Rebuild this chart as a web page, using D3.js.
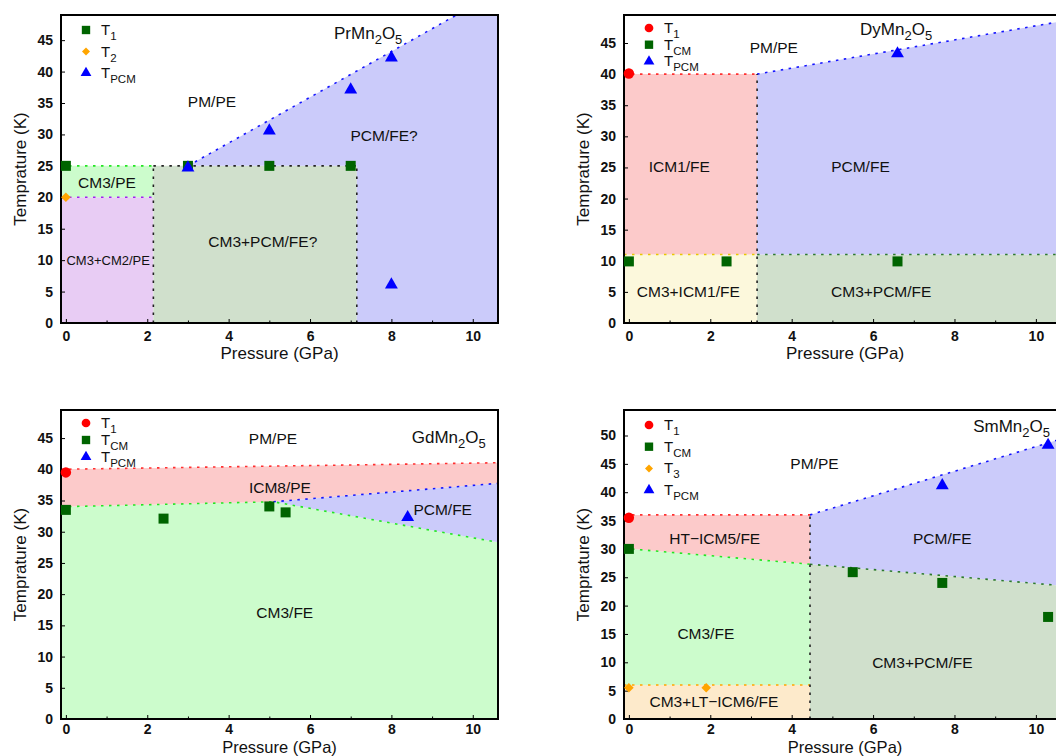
<!DOCTYPE html>
<html><head><meta charset="utf-8">
<script src="https://cdn.jsdelivr.net/npm/d3@7"></script>
<style>
body{margin:0;background:#fff}
text{font-family:"Liberation Sans",Arial,Helvetica,sans-serif;fill:#111}
</style>
</head><body>
<svg id="chart" width="1056" height="756"></svg>
<script>
// ---------------- data ----------------
const X_MIN = -0.12;
const pressureTicksMajor = [0, 2, 4, 6, 8, 10];
const pressureTicksMinor = [1, 3, 5, 7, 9];
const tempTicks49 = [0, 5, 10, 15, 20, 25, 30, 35, 40, 45];
const tempTicks54 = [0, 5, 10, 15, 20, 25, 30, 35, 40, 45, 50];

// PrMn2O5
const prT1   = [[0, 25], [3, 25], [5, 25], [7, 25]];
const prT2   = [[0, 20]];
const prTPCM = [[3, 24.7], [5, 30.6], [7, 37.1], [8, 42.2], [8, 6.1]];
const prLegendSubs = ["1", "2", "PCM"];
const prLabels = ["PM/PE", "PCM/FE?", "CM3/PE", "CM3+CM2/PE", "CM3+PCM/FE?"];
const prBoundPCM   = [[3, 25], [9.6, 49]];
const prBoundCM3a  = [[X_MIN, 25], [2.15, 25]];
const prBoundCM3b  = [[2.15, 25], [7.15, 25]];
const prBoundCM2   = [[X_MIN, 20], [2.15, 20]];
const prBoundV1    = [[2.15, 0], [2.15, 25]];
const prBoundV2    = [[7.15, 0], [7.15, 25]];

// DyMn2O5
const dyT1   = [[0, 40.1]];
const dyTCM  = [[0, 9.9], [2.4, 9.9], [6.6, 9.9]];
const dyTPCM = [[6.6, 43.3]];
const dyLegendSubs = ["1", "CM", "PCM"];
const dyLabels = ["PM/PE", "ICM1/FE", "PCM/FE", "CM3+ICM1/FE", "CM3+PCM/FE"];
const dyBoundT1   = [[X_MIN, 40], [3.15, 40]];
const dyBoundPCM  = [[3.15, 40], [10.74, 48.6]];
const dyBoundV    = [[3.15, 0], [3.15, 40]];
const dyBoundCMa  = [[X_MIN, 11], [3.15, 11]];
const dyBoundCMb  = [[3.15, 11], [10.74, 11]];

// GdMn2O5
const gdT1   = [[0, 39.5]];
const gdTCM  = [[0, 33.5], [2.4, 32.1], [5.0, 34.05], [5.4, 33.1]];
const gdTPCM = [[8.4, 32.3]];
const gdLegendSubs = ["1", "CM", "PCM"];
const gdLabels = ["PM/PE", "ICM8/PE", "PCM/FE", "CM3/FE"];
const gdBoundT1  = [[X_MIN, 40.0], [10.62, 41.05]];
const gdBoundCM  = [[X_MIN, 34.0], [5.1, 34.8], [10.62, 28.3]];
const gdBoundPCM = [[5.1, 34.8], [10.62, 37.75]];

// SmMn2O5
const smT1   = [[0, 35.5]];
const smTCM  = [[0, 30], [5.5, 25.9], [7.7, 24.0], [10.3, 18.0]];
const smT3   = [[0, 5.5], [1.9, 5.5]];
const smTPCM = [[7.7, 41.2], [10.3, 48.3]];
const smLegendSubs = ["1", "CM", "3", "PCM"];
const smLabels = ["PM/PE", "HT\u2212ICM5/FE", "PCM/FE", "CM3/FE", "CM3+PCM/FE", "CM3+LT\u2212ICM6/FE"];
const smBoundT1  = [[X_MIN, 36], [4.45, 36]];
const smBoundPCM = [[4.45, 36], [10.74, 49.65]];
const smBoundCMa = [[X_MIN, 30.1], [4.45, 27.3]];
const smBoundCMb = [[4.45, 27.3], [10.74, 23.45]];
const smBoundT3  = [[X_MIN, 6], [4.45, 6]];
const smBoundV   = [[4.45, 0], [4.45, 36]];

// ---------------- styles ----------------
const FILL = {pink:"#fccaca", blue:"#cbcbfa", green:"#ccfccc", grey:"#d0e0cc",
              purple:"#e8ccf4", yellow:"#fcf8dc", peach:"#fdeacb"};
const MC = {red:"#ff0000", green:"#006400", orange:"#ffa500", blue:"#0000ff"};
const LC = {red:"#ff3030", blue:"#1515ff", lime:"#22e622", dkgreen:"#2c7a2c",
            black:"#222222", purple:"#a020f0", orange:"#ffa500", yellow:"#e8c800"};

const svg = d3.select("#chart");
let clipId = 0;

function symPath(kind, big) {
  const s = big ? 1 : 0.7;
  if (kind === "square")   return d3.symbol(d3.symbolSquare, 100 * s)();
  if (kind === "circle")   return d3.symbol(d3.symbolCircle, 85 * s)();
  if (kind === "triangle") return d3.symbol(d3.symbolTriangle, 72 * s)();
  if (kind === "diamond")  return d3.symbol(d3.symbolSquare, 46 * s)();
}
const KIND_COLOR = {circle:MC.red, square:MC.green, diamond:MC.orange, triangle:MC.blue};

function subText(sel, parts, mainSize, subSize, shift) {
  let prevSub = false;
  parts.forEach(([t, sub]) => {
    const ts = sel.append("tspan").text(t).attr("font-size", sub ? subSize : mainSize);
    if (sub && !prevSub) ts.attr("dy", shift);
    if (!sub && prevSub) ts.attr("dy", -shift);
    prevSub = sub;
  });
}

function panel(cfg) {
  const g = svg.append("g");
  const x = d3.scaleLinear().domain([X_MIN, cfg.xMax]).range([cfg.left, cfg.left + cfg.w]);
  const y = d3.scaleLinear().domain([0, cfg.yMax]).range([cfg.top + cfg.h, cfg.top]);
  const id = "clip" + (clipId++);
  g.append("clipPath").attr("id", id).append("rect")
    .attr("x", cfg.left).attr("y", cfg.top).attr("width", cfg.w).attr("height", cfg.h);
  const plot = g.append("g").attr("clip-path", `url(#${id})`);
  const line = d3.line().x(d => x(d[0])).y(d => y(d[1]));

  cfg.regions.forEach(([pts, fill]) => {
    plot.append("path").attr("d", line(pts) + "Z").attr("fill", fill).attr("stroke", "none");
  });
  cfg.lines.forEach(([pts, col]) => {
    plot.append("path").attr("d", line(pts)).attr("fill", "none").attr("stroke", col)
      .attr("stroke-width", 1.6).attr("stroke-dasharray", "2.5,5.5");
  });

  // axes
  const ax = g.append("g").attr("transform", `translate(0,${cfg.top + cfg.h})`)
    .call(d3.axisBottom(x).tickValues(pressureTicksMajor).tickSizeInner(-4).tickSizeOuter(0).tickPadding(cfg.xPad));
  const axm = g.append("g").attr("transform", `translate(0,${cfg.top + cfg.h})`)
    .call(d3.axisBottom(x).tickValues(pressureTicksMinor).tickSizeInner(-2.5).tickSizeOuter(0).tickFormat(""));
  const ay = g.append("g").attr("transform", `translate(${cfg.left},0)`)
    .call(d3.axisLeft(y).tickValues(cfg.yTicks).tickSizeInner(-4).tickSizeOuter(0).tickPadding(8));
  [ax, axm, ay].forEach(a => {
    a.select(".domain").remove();
    a.selectAll("line").attr("stroke", "#000").attr("stroke-width", 1);
    a.selectAll("text").attr("font-size", 14).attr("font-weight", "bold")
      .attr("font-family", '"Liberation Sans",Arial,sans-serif').attr("fill", "#111");
  });

  // frame
  g.append("rect").attr("x", cfg.left).attr("y", cfg.top).attr("width", cfg.w).attr("height", cfg.h)
    .attr("fill", "none").attr("stroke", "#000").attr("stroke-width", 2);

  // markers
  cfg.points.forEach(([pts, kind]) => {
    g.selectAll(null).data(pts).enter().append("path")
      .attr("d", symPath(kind, true))
      .attr("transform", d => `translate(${x(d[0])},${y(d[1])})` + (kind === "diamond" ? " rotate(45)" : ""))
      .attr("fill", KIND_COLOR[kind]);
  });

  // region labels
  cfg.labels.forEach(([t, px, py, fs]) => {
    g.append("text").attr("x", x(px)).attr("y", y(py)).attr("text-anchor", "middle")
      .attr("dominant-baseline", "central").attr("font-size", fs || 15.5).text(t);
  });

  // compound title
  const tt = g.append("text").attr("x", x(cfg.title.x)).attr("y", y(cfg.title.y));
  subText(tt, cfg.title.parts, 17, 13, 5);

  // legend
  cfg.legend.forEach(([kind, sub], i) => {
    const ly = cfg.legTop + i * cfg.legStep;
    g.append("path").attr("d", symPath(kind, false))
      .attr("transform", `translate(${cfg.left + 25},${ly})` + (kind === "diamond" ? " rotate(45)" : ""))
      .attr("fill", KIND_COLOR[kind]);
    const lt = g.append("text").attr("x", cfg.left + 40).attr("y", ly + 5);
    subText(lt, [["T", false], [sub, true]], 15, 11.5, 5);
  });

  // axis titles
  g.append("text").attr("transform", `translate(${cfg.left - 41},${cfg.top + cfg.h / 2}) rotate(-90)`)
    .attr("text-anchor", "middle").attr("dy", "0.35em").attr("font-size", 17).text("Temprature (K)");
  g.append("text").attr("x", cfg.left + cfg.w / 2).attr("y", cfg.top + cfg.h + cfg.xTitleOff)
    .attr("text-anchor", "middle").attr("font-size", cfg.xTitleSize).text("Pressure (GPa)");
}

// ---------------- panels ----------------
panel({
  left: 61, top: 15, w: 437, h: 308, xMax: 10.62, yMax: 49, yTicks: tempTicks49,
  xPad: 8, xTitleOff: 36, xTitleSize: 17,
  regions: [
    [[[X_MIN, 0], [2.15, 0], [2.15, 20], [X_MIN, 20]], FILL.purple],
    [[[X_MIN, 20], [2.15, 20], [2.15, 25], [X_MIN, 25]], FILL.green],
    [[[2.15, 0], [7.15, 0], [7.15, 25], [2.15, 25]], FILL.grey],
    [[prBoundPCM[0], prBoundPCM[1], [10.62, 49], [10.62, 0], [7.15, 0], [7.15, 25]], FILL.blue]
  ],
  lines: [[prBoundCM3a, LC.lime], [prBoundCM3b, LC.black], [prBoundCM2, LC.purple],
          [prBoundPCM, LC.blue], [prBoundV1, LC.black], [prBoundV2, LC.black]],
  points: [[prT1, "square"], [prT2, "diamond"], [prTPCM, "triangle"]],
  labels: [[prLabels[0], 3.59, 35.2], [prLabels[1], 7.82, 29.9], [prLabels[2], 1.01, 22.4],
           [prLabels[3], 1.04, 10.0, 13], [prLabels[4], 4.84, 13.0]],
  title: {x: 6.59, y: 45.2, parts: [["PrMn", false], ["2", true], ["O", false], ["5", true]]},
  legend: [["square", prLegendSubs[0]], ["diamond", prLegendSubs[1]], ["triangle", prLegendSubs[2]]],
  legTop: 30, legStep: 21.5
});

panel({
  left: 624, top: 15, w: 442, h: 308, xMax: 10.74, yMax: 49.5, yTicks: tempTicks49,
  xPad: 8, xTitleOff: 36, xTitleSize: 17,
  regions: [
    [[[X_MIN, 0], [3.15, 0], [3.15, 11], [X_MIN, 11]], FILL.yellow],
    [[[X_MIN, 11], [3.15, 11], [3.15, 40], [X_MIN, 40]], FILL.pink],
    [[[3.15, 0], [10.74, 0], [10.74, 11], [3.15, 11]], FILL.grey],
    [[[3.15, 11], dyBoundPCM[0], dyBoundPCM[1], [10.74, 11]], FILL.blue]
  ],
  lines: [[dyBoundT1, LC.red], [dyBoundPCM, LC.blue], [dyBoundV, LC.black],
          [dyBoundCMa, LC.yellow], [dyBoundCMb, LC.dkgreen]],
  points: [[dyTCM, "square"], [dyTPCM, "triangle"], [dyT1, "circle"]],
  labels: [[dyLabels[0], 3.56, 44.2], [dyLabels[1], 1.24, 25.1], [dyLabels[2], 5.69, 25.1],
           [dyLabels[3], 1.46, 5.0], [dyLabels[4], 6.2, 5.0]],
  title: {x: 5.68, y: 46.3, parts: [["DyMn", false], ["2", true], ["O", false], ["5", true]]},
  legend: [["circle", dyLegendSubs[0]], ["square", dyLegendSubs[1]], ["triangle", dyLegendSubs[2]]],
  legTop: 28, legStep: 16.7
});

panel({
  left: 61, top: 410, w: 437, h: 309, xMax: 10.62, yMax: 49.5, yTicks: tempTicks49,
  xPad: 5.5, xTitleOff: 33.5, xTitleSize: 16.5,
  regions: [
    [[[X_MIN, 0], [10.62, 0], gdBoundCM[2], gdBoundCM[1], gdBoundCM[0]], FILL.green],
    [[gdBoundCM[0], gdBoundCM[1], gdBoundPCM[1], gdBoundT1[1], gdBoundT1[0]], FILL.pink],
    [[gdBoundCM[1], gdBoundCM[2], gdBoundPCM[1]], FILL.blue]
  ],
  lines: [[gdBoundT1, LC.red], [gdBoundCM, LC.lime], [gdBoundPCM, LC.blue]],
  points: [[gdTCM, "square"], [gdTPCM, "triangle"], [gdT1, "circle"]],
  labels: [[gdLabels[0], 5.09, 45.0], [gdLabels[1], 5.26, 37.1], [gdLabels[2], 9.26, 33.6],
           [gdLabels[3], 5.38, 17.0]],
  title: {x: 8.5, y: 44.2, parts: [["GdMn", false], ["2", true], ["O", false], ["5", true]]},
  legend: [["circle", gdLegendSubs[0]], ["square", gdLegendSubs[1]], ["triangle", gdLegendSubs[2]]],
  legTop: 423, legStep: 17
});

panel({
  left: 624, top: 410, w: 442, h: 309, xMax: 10.74, yMax: 54.5, yTicks: tempTicks54,
  xPad: 5.5, xTitleOff: 33.5, xTitleSize: 16.5,
  regions: [
    [[[X_MIN, 0], [4.45, 0], [4.45, 6], [X_MIN, 6]], FILL.peach],
    [[[X_MIN, 6], [4.45, 6], smBoundCMa[1], smBoundCMa[0]], FILL.green],
    [[smBoundCMa[0], smBoundCMa[1], [4.45, 36], [X_MIN, 36]], FILL.pink],
    [[[4.45, 0], [10.74, 0], smBoundCMb[1], smBoundCMb[0]], FILL.grey],
    [[smBoundCMb[0], smBoundCMb[1], smBoundPCM[1], smBoundPCM[0]], FILL.blue]
  ],
  lines: [[smBoundT1, LC.red], [smBoundPCM, LC.blue], [smBoundCMa, LC.lime], [smBoundCMb, LC.dkgreen],
          [smBoundT3, LC.orange], [smBoundV, LC.black]],
  points: [[smTCM, "square"], [smT3, "diamond"], [smTPCM, "triangle"], [smT1, "circle"]],
  labels: [[smLabels[0], 4.56, 45.0], [smLabels[1], 2.11, 31.9], [smLabels[2], 7.70, 31.9],
           [smLabels[3], 1.89, 15.1], [smLabels[4], 7.21, 10.05], [smLabels[5], 2.09, 3.1]],
  title: {x: 8.46, y: 50.7, parts: [["SmMn", false], ["2", true], ["O", false], ["5", true]]},
  legend: [["circle", smLegendSubs[0]], ["square", smLegendSubs[1]], ["diamond", smLegendSubs[2]], ["triangle", smLegendSubs[3]]],
  legTop: 425, legStep: 21.7
});
</script>
</body></html>
